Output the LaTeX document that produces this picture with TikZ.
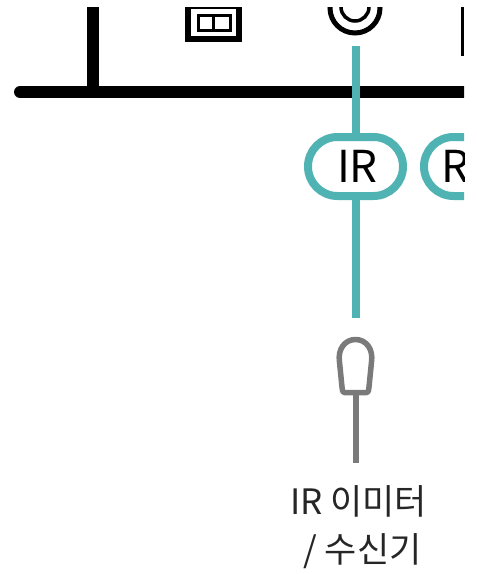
\documentclass[tikz,border=0pt]{standalone}
\usepackage{fontspec}
\newfontfamily\krfont{Noto Sans CJK KR}
\usetikzlibrary{shapes.misc}
\definecolor{tealx}{HTML}{50B3B3}
\definecolor{greyx}{HTML}{7A7A7A}
\tikzset{
  bus/.style={line width=12pt,black},
  teal/.style={line width=8pt,tealx},
  pill/.style={rounded rectangle,draw=tealx,line width=8pt,fill=white,inner sep=0pt,minimum height=59pt,minimum width=95pt},
  pilltext/.style={inner sep=0pt,text=black,font=\krfont\fontsize{44}{44}\selectfont},
  lab/.style={align=center,inner sep=0pt,text=black!85,font=\krfont\fontsize{35}{48}\selectfont},
  probe/.style={line width=5.5pt,greyx}
}
\begin{document}
\begin{tikzpicture}[x=1pt,y=-1pt]
\useasboundingbox (0,0) rectangle (477,574);
\fill[white] (0,0) rectangle (477,574);
\begin{scope}
\clip (0,7) rectangle (464,574);
\coordinate (busL) at (20,92);
\coordinate (busR) at (470,92);
\coordinate (busT) at (92.5,0);
\coordinate (busJ) at (92.5,92);
\draw[bus,line cap=round] (busL) -- (busR);
\draw[bus] (busT) -- (busJ);
% switch box
\draw[line width=6pt] (188,6) rectangle (239,39);
\draw[line width=3pt] (198.5,15.5) rectangle (230.5,30.5);
\draw[line width=3pt] (213.5,15.5) -- (213.5,30.5);
% concentric icon
\draw[line width=5pt] (355,8) circle[radius=25];
\draw[line width=3.5pt] (355,7) circle[radius=14];
% thin bar
\draw[line width=3pt] (462.5,0) -- (462.5,56);
% teal connector
\coordinate (tealT) at (355.5,46);
\coordinate (tealB) at (355.5,318);
\draw[teal] (tealT) -- (tealB);
\node[pill] (ir) at (355.5,166.5) {};
\node[pilltext] (irtext) at (357.5,166) {IR};
\node[pill,anchor=west] (r2) at (420,166.5) {};
\node[pilltext,anchor=west] (rtext) at (441,166) {R};
\end{scope}
% emitter
\draw[probe,line join=round] (344.5,392.5) .. controls (342.5,392.5) and (342,389) .. (342,387)
  -- (339.5,362) .. controls (337.5,349) and (345,339.5) .. (355.5,339.5)
  .. controls (366,339.5) and (373.5,349) .. (371.5,362)
  -- (369,387) .. controls (369,389) and (368.5,392.5) .. (366.5,392.5) -- cycle;
\coordinate (probeT) at (356,392.5);
\coordinate (probeB) at (356,463);
\draw[probe] (probeT) -- (probeB);
\node[lab] (label) at (358.5,527) {IR 이미터\\\hspace{8pt}/ 수신기};
\end{tikzpicture}
\end{document}
